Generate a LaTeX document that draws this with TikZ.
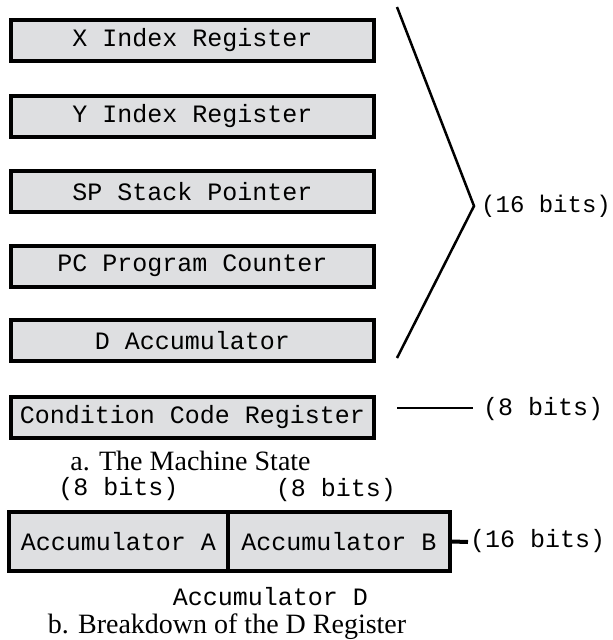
\documentclass[tikz,border=0pt]{standalone}
\usepackage{fontspec}
\setmainfont{Liberation Serif}
\setmonofont{Liberation Mono}
\definecolor{regfill}{RGB}{222,223,225}
\begin{document}
\begin{tikzpicture}[x=1pt,y=-1pt,
  reg/.style={draw=black, line width=4pt, fill=regfill, inner sep=0pt,
    minimum width=363pt, minimum height=41pt,
    font=\fontsize{25}{25}\selectfont\ttfamily},
  half/.style={draw=black, line width=4pt, fill=regfill, inner sep=0pt,
    minimum height=59pt, font=\fontsize{25}{25}\selectfont\ttfamily},
  mono/.style={inner sep=0pt, font=\fontsize{25}{25}\selectfont\ttfamily},
  caption/.style={inner sep=0pt, anchor=base, text depth=0pt,
    font=\fontsize{28}{28}\selectfont},
  lead/.style={line width=2.5pt}]
\useasboundingbox (0,0) rectangle (613,640);

% 16-bit registers
\node[reg] (x)  at (192.5,40)    {X Index Register};
\node[reg] (y)  at (192.5,116)   {Y Index Register};
\node[reg] (sp) at (192.5,191.5) {SP Stack Pointer};
\node[reg] (pc) at (192.5,266)   {PC Program Counter};
\node[reg] (d)  at (192.5,340.5) {D Accumulator};

% brace grouping the 16-bit registers
\coordinate (btop) at (397,7);
\coordinate (btip) at (474,206);
\coordinate (bbot) at (397,358);
\draw[lead, line join=miter] (btop) -- (btip) -- (bbot);
\node[mono, anchor=west, font=\fontsize{24}{24}\selectfont\ttfamily] (b16) at (481,206) {(16 bits)};

% condition code register
\node[reg] (ccr) at (192.5,417.5) {Condition Code Register};
\coordinate (ccra) at (397,408);
\coordinate (ccrb) at (473,408);
\draw[lead] (ccra) -- (ccrb);
\node[mono, anchor=west] (b8) at (483,409) {(8 bits)};

\node[caption] (capa) at (190.5,470) {a. The Machine State};

% accumulator D split into A and B
\node[mono] (ba) at (118.5,489.5) {(8 bits)};
\node[mono] (bb) at (336,490.5) {(8 bits)};
\node[half, minimum width=219pt] (acca) at (118.5,541.5) {Accumulator A};
\node[half, minimum width=222pt] (accb) at (339,541.5) {Accumulator B};
\coordinate (dlead) at (468,542);
\draw[line width=4pt] (accb.east) -- (dlead);
\node[mono, anchor=west] (d16) at (470,541) {(16 bits)};

\node[mono] (accd) at (270.5,597) {Accumulator D};
\node[caption] (capb) at (227,633) {b. Breakdown of the D Register};
\end{tikzpicture}
\end{document}
